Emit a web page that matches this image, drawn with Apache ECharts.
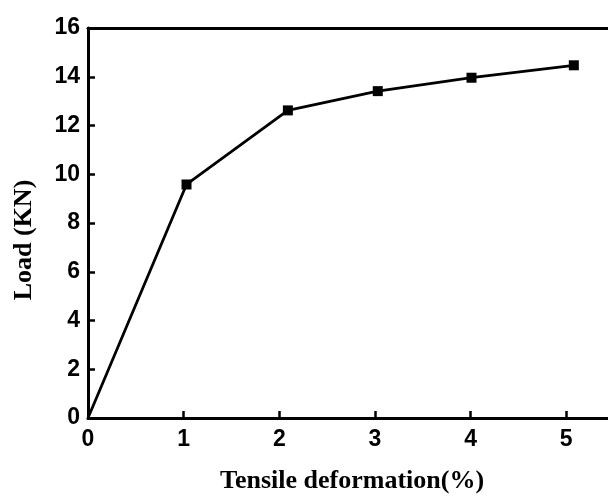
<!DOCTYPE html>
<html>
<head>
<meta charset="utf-8">
<script src="https://cdn.jsdelivr.net/npm/echarts@6/dist/echarts.min.js"></script>
<style>
  html, body { margin: 0; padding: 0; background: #ffffff; }
  #chart { width: 608px; height: 496px; }
</style>
</head>
<body>
<div id="chart"></div>
<script>
// Tensile deformation (%) and the measured load (kN)
const deformation = [0, 1.03, 2.09, 3.03, 4.01, 5.08];
const load = [0, 9.58, 12.62, 13.41, 13.96, 14.47];

const xTicks = [0, 1, 2, 3, 4, 5];
const yTicks = [0, 2, 4, 6, 8, 10, 12, 14, 16];

const xTitle = 'Tensile deformation(%)';
const yTitle = 'Load (KN)';

const points = deformation.map((d, i) => {
  const item = { value: [d, load[i]] };
  if (i === 0) item.symbol = 'none';
  return item;
});

const axisLine = { show: true, lineStyle: { color: '#000', width: 3 } };
const axisTick = { show: true, inside: true, length: 7, lineStyle: { color: '#000', width: 2.5 } };
const tickLabel = {
  color: '#000',
  fontFamily: 'Liberation Sans, Arial, sans-serif',
  fontWeight: 'bold',
  fontSize: 23
};
const titleFont = {
  fill: '#000',
  fontFamily: 'Liberation Serif, Times New Roman, serif',
  fontWeight: 'bold',
  fontSize: 26
};

const chart = echarts.init(document.getElementById('chart'));
chart.setOption({
  backgroundColor: '#ffffff',
  animation: false,
  grid: { left: 88, right: -6, top: 28, bottom: 78, containLabel: false, outerBoundsMode: 'none' },
  xAxis: [{
    type: 'value',
    min: 0, max: 5.5, interval: 1,
    axisLine: axisLine,
    axisTick: axisTick,
    axisLabel: Object.assign({ margin: 10, formatter: v => (xTicks.includes(v) ? String(v) : '') }, tickLabel),
    splitLine: { show: false }
  }, {
    type: 'value',
    position: 'top',
    min: 0, max: 5.5,
    axisLine: axisLine,
    axisTick: { show: false },
    axisLabel: { show: false },
    splitLine: { show: false }
  }],
  yAxis: [{
    type: 'value',
    min: 0, max: 16, interval: 2,
    axisLine: axisLine,
    axisTick: axisTick,
    axisLabel: Object.assign({ margin: 8, formatter: v => (yTicks.includes(v) ? String(v) : '') }, tickLabel),
    splitLine: { show: false }
  }],
  graphic: [{
    type: 'text',
    x: 352, y: 481,
    style: Object.assign({ text: xTitle, align: 'center', verticalAlign: 'middle' }, titleFont)
  }, {
    type: 'text',
    x: 24, y: 240,
    rotation: Math.PI / 2,
    style: Object.assign({ text: yTitle, align: 'center', verticalAlign: 'middle' }, titleFont)
  }],
  series: [{
    type: 'line',
    data: points,
    symbol: 'rect',
    symbolSize: 10,
    itemStyle: { color: '#000' },
    lineStyle: { color: '#000', width: 2.8 },
    z: 3
  }]
});
</script>
</body>
</html>
